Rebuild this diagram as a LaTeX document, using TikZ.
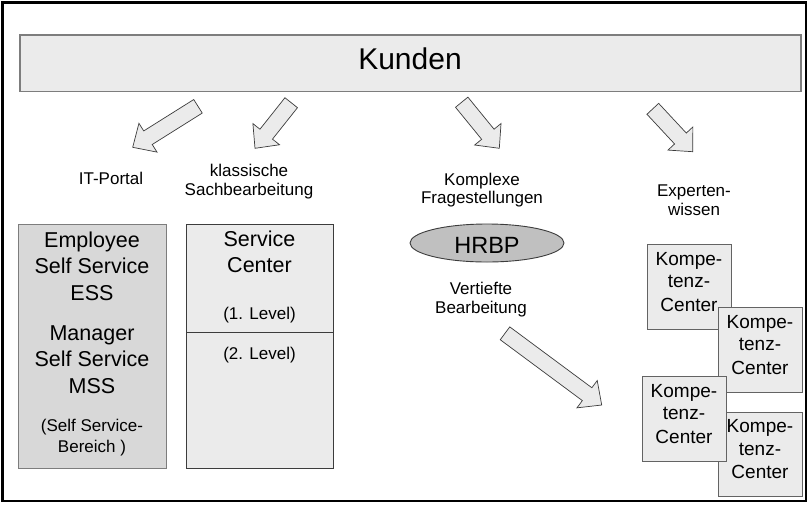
\documentclass[tikz,border=0pt]{standalone}
\usepackage{fontspec}
\setmainfont{Liberation Sans}
\usetikzlibrary{calc,shapes.geometric}

\definecolor{paleGray}{RGB}{235,235,235}
\definecolor{midGray}{RGB}{216,216,216}
\definecolor{hrbpGray}{RGB}{192,192,192}
\definecolor{edgeGray}{RGB}{125,125,125}
\definecolor{edgeDark}{RGB}{60,60,60}

% block arrow from tail coordinate #1 to tip coordinate #2
\newcommand{\shaftHalf}{8pt}
\newcommand{\headHalf}{17pt}
\newcommand{\headLen}{18pt}
\newcommand{\blockarrow}[2]{%
  \draw[barrow] let \p1=($(#2)-(#1)$), \n1={atan2(\y1,\x1)}, \n2={veclen(\x1,\y1)} in
    ($(#1)+({\n1+90}:\shaftHalf)$)
    -- ($(#1)+({\n1}:{\n2-\headLen})+({\n1+90}:\shaftHalf)$)
    -- ($(#1)+({\n1}:{\n2-\headLen})+({\n1+90}:\headHalf)$)
    -- (#2)
    -- ($(#1)+({\n1}:{\n2-\headLen})+({\n1-90}:\headHalf)$)
    -- ($(#1)+({\n1}:{\n2-\headLen})+({\n1-90}:\shaftHalf)$)
    -- ($(#1)+({\n1-90}:\shaftHalf)$) -- cycle;}

% competence-centre card: name, centre x, centre y
\newcommand{\kcbox}[3]{%
  \node[kcard] (#1) at (#2,#3) {};
  \node[txt,font=\fsKC] (#1-a) at ($(#1.north)+(0,20.5)$) {Kompe-};
  \node[txt,font=\fsKC] (#1-b) at ($(#1.north)+(0,43)$) {tenz-};
  \node[txt,font=\fsKC] (#1-c) at ($(#1.north)+(0,66.5)$) {Center};}

\newcommand{\fsTitle}{\fontsize{30}{34}\selectfont}
\newcommand{\fsBox}{\fontsize{21.5}{25}\selectfont}
\newcommand{\fsSmall}{\fontsize{17}{19}\selectfont}
\newcommand{\fsKC}{\fontsize{19}{22}\selectfont}
\newcommand{\fsHR}{\fontsize{23.5}{27}\selectfont}

\begin{document}
\begin{tikzpicture}[x=1pt,y=-1pt,
  txt/.style={inner sep=0pt,outer sep=0pt,anchor=base},
  plainbox/.style={draw,inner sep=0pt,outer sep=0pt,line width=0.9pt},
  kcard/.style={plainbox,draw=edgeDark!80,fill=paleGray,minimum width=84pt,minimum height=84.5pt},
  barrow/.style={draw=edgeDark,fill=paleGray,line width=0.7pt,line join=miter}]

\useasboundingbox (0,0) rectangle (810,504);
\fill[white] (0,0) rectangle (810,504);

% outer frame
\draw[line width=2.6pt] (2.5,2.5) rectangle (806,501);

% customers bar
\node[plainbox,draw=edgeGray,line width=1.2pt,fill=paleGray,minimum width=781pt,minimum height=56.7pt] (kunden) at (410.5,63.3) {};
\node[txt,font=\fsTitle] (kundenTxt) at (410,69) {Kunden};

% channel labels
\node[txt,font=\fsSmall] (lblIT) at (111,184) {IT-Portal};
\node[txt,font=\fsSmall] (lblKl1) at (249,176) {klassische};
\node[txt,font=\fsSmall] (lblKl2) at (249,195) {Sachbearbeitung};
\node[txt,font=\fsSmall] (lblKo1) at (482,185) {Komplexe};
\node[txt,font=\fsSmall] (lblKo2) at (482,203) {Fragestellungen};
\node[txt,font=\fsSmall] (lblEx1) at (694,196) {Experten-};
\node[txt,font=\fsSmall] (lblEx2) at (694,215) {wissen};

% arrows from the customers bar
\coordinate (a1s) at (198,106.3);  \coordinate (a1e) at (132.7,147.3);
\coordinate (a2s) at (291.2,102.7); \coordinate (a2e) at (255,148.3);
\coordinate (a3s) at (461.7,102.2); \coordinate (a3e) at (499.3,148.3);
\coordinate (a4s) at (652.8,108.8); \coordinate (a4e) at (692.7,151.7);
\blockarrow{a1s}{a1e}
\blockarrow{a2s}{a2e}
\blockarrow{a3s}{a3e}
\blockarrow{a4s}{a4e}

% self service column
\node[plainbox,draw=edgeGray,fill=midGray,minimum width=148pt,minimum height=244pt] (ess) at (92,346) {};
\node[txt,font=\fsBox] (ess1) at (92,247) {Employee};
\node[txt,font=\fsBox] (ess2) at (92,273) {Self Service};
\node[txt,font=\fsBox] (ess3) at (92,300) {ESS};
\node[txt,font=\fsBox] (mss1) at (92,340) {Manager};
\node[txt,font=\fsBox] (mss2) at (92,366) {Self Service};
\node[txt,font=\fsBox] (mss3) at (92,393) {MSS};
\node[txt,font=\fsSmall] (ssb1) at (92,431) {(Self Service-};
\node[txt,font=\fsSmall] (ssb2) at (92,452) {Bereich )};

% service centre column
\node[plainbox,draw=edgeDark,fill=paleGray,minimum width=147pt,minimum height=244pt] (sc) at (259.5,346) {};
\coordinate (scDiv) at (0,332);
\draw[edgeDark,line width=0.9pt] (sc.west |- scDiv) -- (sc.east |- scDiv);
\node[txt,font=\fsBox] (sc1) at (259.5,246) {Service};
\node[txt,font=\fsBox] (sc2) at (259.5,272) {Center};
\node[txt,font=\fsSmall] (scL1) at (259.5,319) {(1. Level)};
\node[txt,font=\fsSmall] (scL2) at (259.5,359) {(2. Level)};

% HR business partner
\node[ellipse,plainbox,draw=edgeDark,fill=hrbpGray,minimum width=154pt,minimum height=38pt] (hrbp) at (487,243) {};
\node[txt,font=\fsHR] (hrbpTxt) at (487,253) {HRBP};
\node[txt,font=\fsSmall] (vert1) at (481,294) {Vertiefte};
\node[txt,font=\fsSmall] (vert2) at (481,313) {Bearbeitung};

\coordinate (a5s) at (505,333.3); \coordinate (a5e) at (601.7,405);
\blockarrow{a5s}{a5e}

% competence centres
\kcbox{kc1}{689}{287}
\kcbox{kc2}{760}{350}
\kcbox{kc4}{760}{454.5}
\kcbox{kc3}{684}{419}

\end{tikzpicture}
\end{document}
